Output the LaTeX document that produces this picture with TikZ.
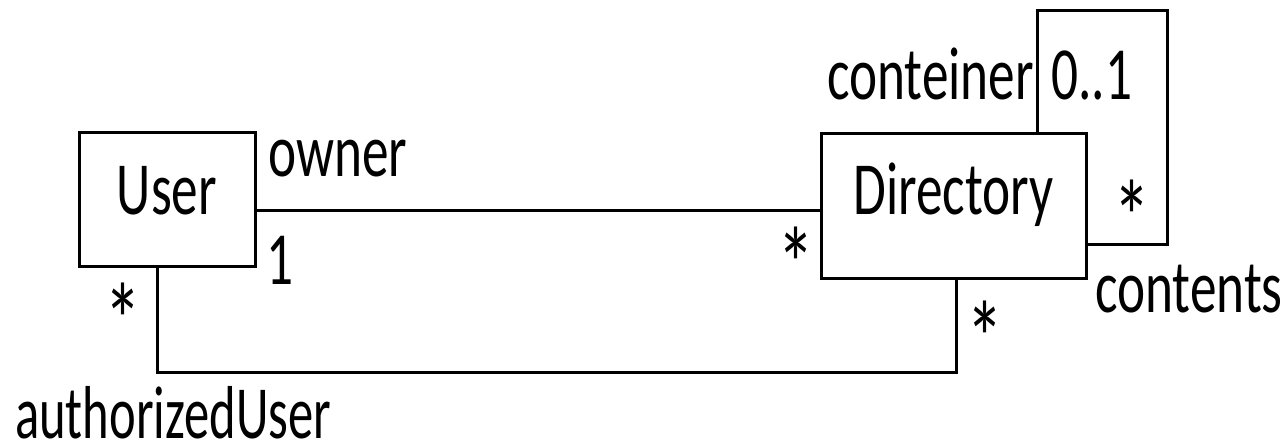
\documentclass[tikz,border=0pt]{standalone}
\usepackage{fontspec}
\setmainfont{Carlito}[FakeStretch=0.71]
\begin{document}
\begin{tikzpicture}[x=1pt,y=-1pt,
  lw/.style={line width=3pt},
  cls/.style={draw,lw,rectangle,inner sep=0pt,font=\fontsize{75}{90}\selectfont},
  lbl/.style={inner sep=0pt,anchor=base west,font=\fontsize{75}{90}\selectfont},
  mult/.style={inner sep=0pt,anchor=base,font=\fontsize{105}{120}\selectfont}]
\useasboundingbox (0,0) rectangle (1287,443);
% classes
\node[cls,minimum width=176pt,minimum height=134pt,text height=48pt,text depth=18pt] (user) at (167,200) {User};
\node[cls,minimum width=265pt,minimum height=145pt,text height=48pt,text depth=31pt] (dir) at (953.5,206.5) {Directory};
% helper coordinates
\coordinate (own) at (0,211);
\coordinate (au1) at (157,372);
\coordinate (au2) at (956,372);
\coordinate (l1) at (1037,11);
\coordinate (l2) at (1167,11);
\coordinate (l3) at (1167,245);
% connectors
\draw[lw] (user.east |- own) -- (dir.west |- own);
\draw[lw] (user.south -| au1) -- (au1) -- (au2) -- (dir.south -| au2);
\draw[lw] (dir.north -| l1) -- (l1) -- (l2) -- (l3) -- (dir.east |- l3);
% labels
\node[lbl] (owner) at (268,177) {owner};
\node[lbl] (one) at (266,285) {1};
\node[mult] (s1) at (123,358) {*};
\node[lbl,xscale=0.95,transform shape] (auth) at (15,438) {authorizedUser};
\node[lbl] (cont) at (827,100) {conteiner};
\node[lbl] (zo) at (1051,100) {0..1};
\node[mult] (s2) at (1132,255) {*};
\node[lbl] (cnts) at (1095,313) {contents};
\node[mult] (s3) at (985,375) {*};
\node[mult] (s4) at (796,302) {*};
\end{tikzpicture}
\end{document}
